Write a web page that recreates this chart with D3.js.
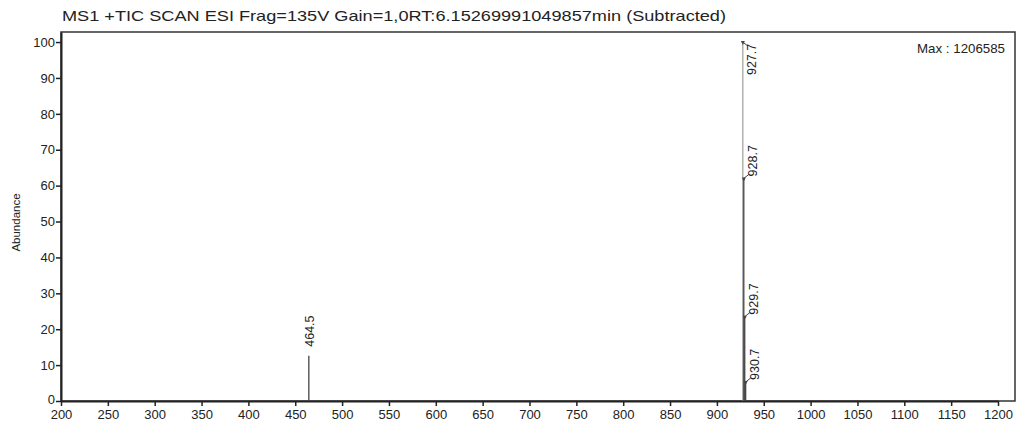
<!DOCTYPE html>
<html>
<head>
<meta charset="utf-8">
<script src="https://cdn.jsdelivr.net/npm/d3@7"></script>
<style>
  body { margin: 0; background: #fff; }
  svg { font-family: Arial, "Liberation Sans", sans-serif; }
</style>
</head>
<body>
<svg id="chart" width="1019" height="428"></svg>
<script>
// peak list
let peakMz = [464.5, 927.7, 928.7, 929.7, 930.7];
let peakAbundance = [12.6, 100, 62, 23.5, 5.3];
let xTicks = d3.range(200, 1201, 50);
let yTicks = d3.range(0, 101, 10);
let titleText = "MS1 +TIC SCAN ESI Frag=135V Gain=1,0RT:6.15269991049857min (Subtracted)";
let maxText = "Max : 1206585";

let svg = d3.select("#chart");

let plotLeft = 61, plotRight = 1015, plotTop = 32, plotBottom = 401;

let x = d3.scaleLinear().domain([200, 1200]).range([plotLeft, 998]);
let y = d3.scaleLinear().domain([0, 102.8]).range([plotBottom, plotTop]);

// title (scan font is wider than ours, so stretch it)
svg.append("text")
    .attr("x", 62).attr("y", 21)
    .attr("font-size", 15)
    .attr("textLength", 664)
    .attr("lengthAdjust", "spacingAndGlyphs")
    .attr("fill", "#222")
    .text(titleText);

// frame
svg.append("rect")
    .attr("x", plotLeft).attr("y", plotTop)
    .attr("width", plotRight - plotLeft).attr("height", plotBottom - plotTop)
    .attr("fill", "none")
    .attr("stroke", "#333")
    .attr("stroke-width", 1.5);

// axes
let xAxis = d3.axisBottom(x).tickValues(xTicks).tickFormat(d3.format("d"))
    .tickSize(5).tickPadding(4).tickSizeOuter(0);
let yAxis = d3.axisLeft(y).tickValues(yTicks).tickFormat(d3.format("d"))
    .tickSize(5).tickPadding(1).tickSizeOuter(0);

let gx = svg.append("g").attr("transform", `translate(0,${plotBottom})`).call(xAxis);
let gy = svg.append("g").attr("transform", `translate(${plotLeft},0)`).call(yAxis);

[gx, gy].forEach(function (g) {
    g.select(".domain").attr("stroke", "#222").attr("stroke-width", 2);
    g.selectAll(".tick line").attr("stroke", "#222").attr("stroke-width", 1.5);
    g.selectAll(".tick text")
        .attr("fill", "#222")
        .attr("font-size", 13)
        .attr("font-family", "Arial, 'Liberation Sans', sans-serif");
});
// the zero label sits a touch higher so it clears the 200 below it
gy.selectAll(".tick text").filter(d => d === 0).attr("dy", "0.2em");

// y label
svg.append("text")
    .attr("transform", `translate(20,${(plotTop + plotBottom) / 2 + 6}) rotate(-90)`)
    .attr("text-anchor", "middle")
    .attr("font-size", 11.5)
    .attr("fill", "#222")
    .text("Abundance");

// max note
svg.append("text")
    .attr("x", 1005).attr("y", 53)
    .attr("text-anchor", "end")
    .attr("font-size", 13.3)
    .attr("fill", "#222")
    .text(maxText);

let peaks = peakMz.map(function (m, i) { return {mz: m, ab: peakAbundance[i]}; });

// sticks
svg.append("g").selectAll("line.peak")
    .data(peaks)
    .enter()
    .append("line").classed("peak", true)
    .attr("x1", d => x(d.mz)).attr("x2", d => x(d.mz))
    .attr("y1", y(0)).attr("y2", d => y(d.ab))
    .attr("stroke", d => d.ab > 90 ? "#888" : "#444")
    .attr("stroke-width", d => d.ab > 90 ? 1 : 1.3);

// does the peak sit in a crowded cluster?
function crowded(d) {
    return peaks.some(p => p !== d && Math.abs(p.mz - d.mz) < 5);
}

let labels = svg.append("g");
peaks.forEach(function (d) {
    let px = x(d.mz), py = y(d.ab);
    let dx = crowded(d) ? 9 : 1;
    let nearTop = py - plotTop < 40;
    if (crowded(d)) {
        // little leader tick from stick to label
        labels.append("line")
            .attr("x1", px).attr("y1", py)
            .attr("x2", px + 5).attr("y2", nearTop ? py + 4 : py - 4)
            .attr("stroke", "#444").attr("stroke-width", 1);
        labels.append("path")
            .attr("d", `M${px - 2},${py - 1} L${px + 2},${py - 1} L${px},${py + 3} Z`)
            .attr("fill", "#444");
    }
    let ty = nearTop ? py + 33 : py - (crowded(d) ? 2 : 9);
    labels.append("text")
        .attr("transform", `translate(${px + dx + 4},${ty}) rotate(-90)`)
        .attr("text-anchor", "start")
        .attr("font-size", 12.5)
        .attr("fill", "#222")
        .text(d.mz.toFixed(1));
});
</script>
</body>
</html>
